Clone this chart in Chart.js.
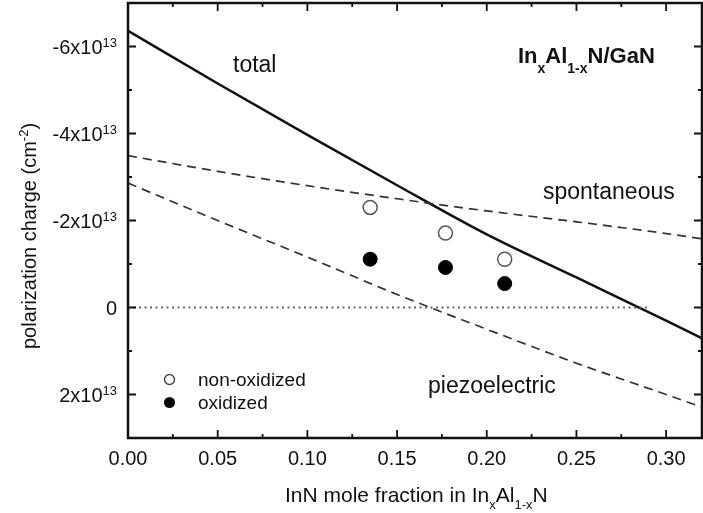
<!DOCTYPE html>
<html>
<head>
<meta charset="utf-8">
<script src="https://cdn.jsdelivr.net/npm/chart.js@4.4.1/dist/chart.umd.min.js"></script>
<style>
  html, body { margin: 0; padding: 0; background: #fff; }
  canvas { display: block; }
</style>
</head>
<body>
<canvas id="polChart" width="703" height="513"></canvas>
<script>
// values in units of 10^13 cm^-2
const molFrac = [0, 0.05, 0.10, 0.15, 0.20, 0.25, 0.30, 0.32];
const totalPol = [-6.36, -5.15, -3.97, -2.81, -1.68, -0.69, 0.30, 0.71];
const spontPol = [-3.49, -3.13, -2.80, -2.50, -2.22, -1.97, -1.70, -1.58];
const piezoPol = [-2.86, -2.00, -1.16, -0.30, 0.50, 1.28, 2.00, 2.29];
const zeroX = [0, 0.29];
const zeroY = [0, 0];

const sampleX = [0.135, 0.177, 0.21];
const nonOxidized = [-2.30, -1.71, -1.11];
const oxidized = [-1.11, -0.92, -0.55];

const xTicks = [0, 0.05, 0.10, 0.15, 0.20, 0.25, 0.30];
const yTicks = [-6, -4, -2, 0, 2];

const FONT = '"Liberation Sans", Arial, sans-serif';

function pts(xs, ys) {
  return xs.map((x, i) => ({x: x, y: ys[i]}));
}

// draws a run of [text, size, dy, bold] pieces starting at x
function drawRuns(ctx, runs, x, y) {
  let cx = x;
  runs.forEach(r => {
    ctx.font = (r[3] ? 'bold ' : '') + r[1] + 'px ' + FONT;
    ctx.fillText(r[0], cx, y + r[2]);
    cx += ctx.measureText(r[0]).width;
  });
  return cx;
}
function runsWidth(ctx, runs) {
  let w = 0;
  runs.forEach(r => {
    ctx.font = (r[3] ? 'bold ' : '') + r[1] + 'px ' + FONT;
    w += ctx.measureText(r[0]).width;
  });
  return w;
}

const framePlugin = {
  id: 'framePlugin',
  afterDraw(chart) {
    const ctx = chart.ctx;
    const a = chart.chartArea;
    const xs = chart.scales.x, ys = chart.scales.y;
    ctx.save();
    ctx.strokeStyle = '#111';
    ctx.fillStyle = '#111';

    // frame
    ctx.lineWidth = 2.5;
    ctx.strokeRect(a.left, a.top, a.right - a.left, a.bottom - a.top);

    // tick marks, pointing inward
    ctx.lineWidth = 1.8;
    ctx.beginPath();
    xTicks.forEach((t, i) => {
      const px = xs.getPixelForValue(t);
      ctx.moveTo(px, a.bottom); ctx.lineTo(px, a.bottom - 8);
      ctx.moveTo(px, a.top); ctx.lineTo(px, a.top + 8);
      const m = i < xTicks.length - 1 ? (t + xTicks[i + 1]) / 2 : t + 0.025;
      if (m < xs.max) {
        const pm = xs.getPixelForValue(m);
        ctx.moveTo(pm, a.bottom); ctx.lineTo(pm, a.bottom - 4);
        ctx.moveTo(pm, a.top); ctx.lineTo(pm, a.top + 4);
      }
    });
    yTicks.forEach((t, i) => {
      const py = ys.getPixelForValue(t);
      ctx.moveTo(a.left, py); ctx.lineTo(a.left + 8, py);
      ctx.moveTo(a.right, py); ctx.lineTo(a.right - 8, py);
      const m = i < yTicks.length - 1 ? (t + yTicks[i + 1]) / 2 : t - 1;
      const pm = ys.getPixelForValue(m);
      ctx.moveTo(a.left, pm); ctx.lineTo(a.left + 4, pm);
      ctx.moveTo(a.right, pm); ctx.lineTo(a.right - 4, pm);
    });
    ctx.stroke();

    // tick labels
    ctx.textBaseline = 'alphabetic';
    ctx.textAlign = 'center';
    ctx.font = '20px ' + FONT;
    xTicks.forEach(t => {
      ctx.fillText(t.toFixed(2), xs.getPixelForValue(t), 465);
    });
    ctx.textAlign = 'left';
    yTicks.forEach(t => {
      const py = ys.getPixelForValue(t);
      const runs = t === 0 ? [['0', 20, 0]] : [[t + 'x10', 20, 0], ['13', 13, -7]];
      const w = runsWidth(ctx, runs);
      drawRuns(ctx, runs, 117 - w, py + 7);
    });

    // axis titles
    const xt = [['InN mole fraction in In', 21, 0], ['x', 13, 7], ['Al', 21, 0], ['1-x', 13, 7], ['N', 21, 0]];
    drawRuns(ctx, xt, 285, 502);

    const yt = [['polarization charge (cm', 20, 0], ['-2', 13, -8], [')', 20, 0]];
    const yw = runsWidth(ctx, yt);
    ctx.save();
    ctx.translate(36, 236);
    ctx.rotate(-Math.PI / 2);
    drawRuns(ctx, yt, -yw / 2, 0);
    ctx.restore();

    // labels inside the plot
    drawRuns(ctx, [['In', 22, 0, true], ['x', 14, 10, true], ['Al', 22, 0, true], ['1-x', 14, 10, true], ['N/GaN', 22, 0, true]], 518, 63);
    ctx.font = '23px ' + FONT;
    ctx.fillText('total', 233, 72);
    ctx.fillText('spontaneous', 543, 199);
    ctx.fillText('piezoelectric', 428, 393);

    // legend
    ctx.lineWidth = 1.4;
    ctx.strokeStyle = '#444';
    ctx.fillStyle = '#fff';
    ctx.beginPath(); ctx.arc(169.5, 379.5, 5, 0, Math.PI * 2); ctx.fill(); ctx.stroke();
    ctx.fillStyle = '#000';
    ctx.beginPath(); ctx.arc(169.5, 402.5, 5.5, 0, Math.PI * 2); ctx.fill();
    ctx.fillStyle = '#111';
    ctx.font = '19px ' + FONT;
    ctx.fillText('non-oxidized', 198, 386);
    ctx.fillText('oxidized', 198, 409);

    ctx.restore();
  }
};

new Chart(document.getElementById('polChart'), {
  type: 'scatter',
  data: {
    datasets: [
      {
        label: 'zero',
        data: pts(zeroX, zeroY),
        showLine: true,
        borderColor: '#666',
        borderWidth: 1.8,
        borderDash: [2, 3.5],
        pointRadius: 0
      },
      {
        label: 'spontaneous',
        data: pts(molFrac, spontPol),
        showLine: true,
        borderColor: '#333',
        borderWidth: 1.7,
        borderDash: [9, 6],
        cubicInterpolationMode: 'monotone',
        pointRadius: 0
      },
      {
        label: 'piezoelectric',
        data: pts(molFrac, piezoPol),
        showLine: true,
        borderColor: '#333',
        borderWidth: 1.7,
        borderDash: [9, 6],
        cubicInterpolationMode: 'monotone',
        pointRadius: 0
      },
      {
        label: 'total',
        data: pts(molFrac, totalPol),
        showLine: true,
        borderColor: '#111',
        borderWidth: 2.5,
        cubicInterpolationMode: 'monotone',
        pointRadius: 0
      },
      {
        label: 'non-oxidized',
        data: pts(sampleX, nonOxidized),
        pointRadius: 7,
        pointBackgroundColor: '#fff',
        pointBorderColor: '#555',
        pointBorderWidth: 1.5
      },
      {
        label: 'oxidized',
        data: pts(sampleX, oxidized),
        pointRadius: 7,
        pointBackgroundColor: '#000',
        pointBorderColor: '#000',
        pointBorderWidth: 1
      }
    ]
  },
  options: {
    responsive: false,
    animation: false,
    layout: {
      autoPadding: false,
      padding: {left: 128, top: 3, right: 1, bottom: 75}
    },
    scales: {
      x: {type: 'linear', display: false, min: 0, max: 0.32},
      y: {type: 'linear', display: false, min: -7, max: 3, reverse: true}
    },
    plugins: {
      legend: {display: false},
      tooltip: {enabled: false}
    }
  },
  plugins: [framePlugin]
});
</script>
</body>
</html>
